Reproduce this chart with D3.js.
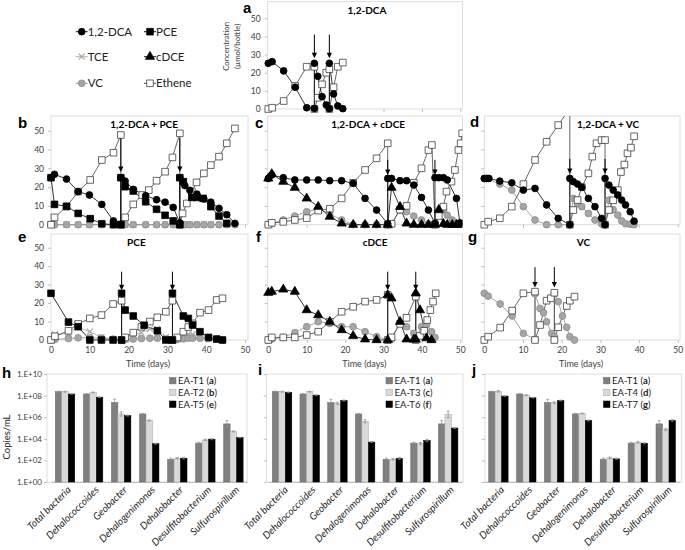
<!DOCTYPE html>
<html><head><meta charset="utf-8">
<script src="https://cdn.jsdelivr.net/npm/d3@7"></script>
<style>body{margin:0;background:#fff}svg{display:block;font-family:Lato,'Open Sans',sans-serif}</style>
</head><body><svg id="c" width="685" height="550"></svg>
<script>
// ===== Time-course data: [day, µmol/bottle] =====
const a_DCA = [[0,25.2],[1,26.1],[4,21],[7,12],[10,0.7],[12,0.3],[12,25.2],[12.9,18],[14,6.8],[15.1,2.2],[15.9,0.2],[15.9,25.2],[17,8.3],[18.1,1.7],[19.4,0.2]];
const a_Eth = [[0,0],[1,0.7],[4,4.4],[7,12.7],[10,23.3],[12,23.3],[12,0],[12.9,6.2],[14,13.6],[15.1,20],[15.9,21.9],[15.9,0],[17,12],[18.1,23.3],[19.4,25.6]];
const a_spikes = [12, 15.9];

const b_DCA = [[0,25],[0.9,26.8],[4,24.3],[7,17.6],[9.9,15.8],[13.1,10.8],[16.1,2],[18,0.3],[18,25],[19.1,23.2],[21.2,18.8],[24.4,15.4],[27.2,13.3],[29.4,12],[31.5,9.2],[33.2,1],[33.2,25],[34.5,20.8],[35.8,18.3],[37.6,16.3],[39.4,13.7],[41.2,12],[43.3,8.7],[45.3,5.3],[47.4,0.7]];
const b_PCE = [[0,25],[0.9,10.8],[4,9.8],[7,6],[10.1,3.2],[13.1,0.5],[16.1,0],[18,0],[18,25],[19.1,20.2],[21.2,17.9],[24.4,12.2],[27.2,8.2],[29.4,5],[31.5,2],[33.2,0],[33.2,25],[34.1,22.9],[36.3,14.5],[37.6,14.5],[39.2,14],[41.2,9.6],[43.3,4.6],[45.3,0.7]];
const b_Eth = [[0,0],[0.9,3.9],[4,9.6],[7,17.6],[10.1,23.8],[13.1,34.4],[16.1,38.3],[18,47.7],[18,0],[19.1,3.9],[21.2,10.8],[23.5,15.8],[25.2,18.4],[27.2,23.4],[29.4,28.2],[31.3,35.8],[33.2,48.6],[33.2,0],[33.9,6],[35,11.3],[36.3,17.6],[37.5,22.5],[39.4,27.3],[41.2,31.7],[43.3,36.2],[45.3,43.3],[47.4,51.2]];
const b_VC = [[0,0],[0.9,0],[4,0],[7,0],[9.9,0],[13.1,0],[16.1,0],[18,0],[19.1,0],[21.2,0],[24.4,0],[27.2,0],[29.4,0],[31.5,0],[33.2,0],[34.5,0],[35.8,0],[37.6,0],[39.4,0],[41.2,0],[43.3,0],[45.3,0],[47.4,0]];
const b_TCE = [[0,0],[0.9,0],[4,0],[7,0],[9.9,0],[13.1,0],[16.1,0],[18,0],[19.1,0],[21.2,0],[24.4,0],[27.2,0],[29.4,0],[31.5,0],[33.2,0],[34.5,0],[35.8,0],[37.6,0],[39.4,0],[41.2,0],[43.3,0],[45.3,0],[47.4,0]];
const b_spikes = [18, 33.2];

const c_DCA = [[0,24.6],[0.9,26.4],[3.9,25],[6.9,23.8],[10,23.8],[13,23.8],[16,23.4],[19.1,23.4],[22.1,22],[25.2,14],[28.2,7.8],[31.1,0.5],[31.1,24.6],[32.1,24.6],[34.3,23.4],[36,23.4],[37.9,21.1],[39.9,14.5],[41.7,7.8],[43.4,0.7],[43.4,25],[44.4,25],[45.6,25],[46.6,23.8],[49,14],[49.9,1]];
const c_cDCE = [[0,24.6],[0.9,27],[3.9,22.9],[6.9,19.7],[10,14],[13,9.6],[16,4.3],[19.1,0.7],[22.1,0],[25.2,0],[28.2,0],[31.1,0],[32.1,19.7],[34.3,9.5],[36,0.7],[37.9,0],[39.9,0],[41.7,0],[43.4,0],[44.4,8],[45.6,0.5],[46.6,0],[47.9,0],[49,0],[49.9,0]];
const c_VC = [[0,0],[0.9,0.5],[3.9,2.5],[6.9,4.6],[10,6.9],[13,8.3],[16,5.7],[19.1,2.5],[22.1,0],[25.2,0],[28.2,0],[31.1,0],[32.1,0.5],[34.3,7.8],[36,6.9],[37.9,4.6],[39.9,2.5],[41.7,0.5],[43.4,0],[44.4,6.9],[45.6,7.8],[46.6,5.1],[47.9,2.5],[49,0.5]];
const c_Eth = [[0,0],[0.9,1],[3.9,1.5],[6.9,2.5],[10,3.5],[13,7.5],[16,8.5],[19.1,14],[22.1,22.3],[25.2,29.1],[28.2,35.3],[31.1,43.3],[31.1,0],[32.1,0.5],[34.3,8],[36,10],[37.9,22.3],[39.9,30],[41.7,39.7],[42.6,42.4],[43.4,0],[44.4,4.6],[45.6,9.6],[46.4,17.6],[47.7,22.9],[48.6,29.1],[49.5,39.7],[50.1,43.3],[50.5,48.6]];
const c_spikes = [31.1, 43.4];

const d_DCA = [[0,24.6],[0.6,24.6],[1.2,24.6],[4,23.2],[7.1,22.3],[10.1,18.4],[13.1,19.3],[16.1,10.5],[19.1,3.4],[22.1,0],[22.1,24.6],[23,22.9],[24.1,21.6],[25.2,19.9],[26.9,14],[28.6,9.6],[30.3,3.4],[31.2,0],[31.2,24.6],[32.2,21.1],[33.3,18.4],[34.5,15.8],[35.5,13.1],[36.5,10.5],[37.7,6.9],[38.7,1.9]];
const d_VC = [[0,24.6],[0.6,24.6],[4,21.6],[7.1,18.4],[10.1,9.6],[13.1,2.5],[16.1,0],[19.1,0],[22.1,0],[23,14],[24.1,11.3],[25.2,9.6],[26.9,6],[28.6,2.5],[30.3,0.5],[31.2,0],[32.2,13.1],[33.3,8],[34.5,5.1],[35.5,2],[36.5,0.5],[37.7,0.3],[38.7,0]];
const d_Eth = [[0,0],[1,1.6],[4,3.4],[7.1,9.6],[10.1,21.6],[13.1,34.4],[16.1,44.1],[19.1,53],[22.1,62],[22.1,0],[23,7.8],[24.1,13.1],[25.2,20],[26.9,27.3],[27.9,36.2],[29,43.3],[30.3,45],[31.2,45],[31.2,0],[32.2,7.8],[33.3,13],[34.5,18.4],[35.3,28],[36.2,32],[37,38],[37.9,41],[38.7,47]];
const d_spikes = [22.1, 31.2];

const e_PCE = [[0,25.3],[4.5,9.7],[7,7.2],[10,0],[13,0],[16,0],[18.2,0],[18.2,25.3],[19.1,16.2],[21.2,13],[24,8],[27.4,5],[29.6,0],[31.3,0],[31.3,25.3],[34.1,13],[35.4,11.7],[36.5,8.1],[38.4,4.5],[40.6,1.4],[42.7,0.5],[44.2,0]];
const e_TCE = [[0,0],[1,3],[4.5,3.5],[7,7],[10,4.5],[13,1.5],[16,0.5],[18.2,0],[19.1,1],[21.2,2.5],[23.3,4],[25.5,6],[27.4,6],[29.6,1.5],[31.3,0],[32.6,1.5],[34.1,2.5],[35.4,3],[36.5,3],[38.4,2],[40.6,1],[42.7,0.5],[44.2,0]];
const e_VC = [[0,0],[1,0.3],[4.5,0.8],[7,1.2],[10,1.2],[13,1],[16,0.5],[18.2,0],[19.1,0.3],[21.2,0.5],[23.3,0.8],[25.5,1],[27.4,1],[29.6,0.5],[31.3,0],[32.6,0.3],[34.1,0.6],[35.4,1],[36.5,1],[38.4,1],[40.6,0.8],[42.7,0.5],[44.2,0]];
const e_Eth = [[0,0],[1,2],[4.5,5],[7,8.7],[10,11.7],[13,13.5],[16,19.5],[18.2,21.3],[18.2,0],[19.1,1.4],[21.2,4],[23.3,7.2],[25.5,10],[27.4,12.3],[29.6,15.3],[31.3,21.3],[31.3,0],[32.6,1.4],[34.1,4.5],[35.4,7],[36.5,9],[38.4,14.8],[40.6,16.2],[42.7,21.7],[44.2,22.6]];
const e_spikes = [18.2, 31.3];

const f_cDCE = [[0,25.6],[0.9,26.2],[3.9,27.4],[6.9,26.2],[10,16.2],[13,13.5],[16,9.9],[19.1,5.4],[22.1,2.2],[25.2,0.4],[28.2,0],[31.1,0],[31.1,24.4],[32.1,22.6],[34.3,9.9],[36,0.4],[37.9,0.3],[38.4,0.3],[38.4,25.3],[39.5,16.2],[41.2,1],[42.5,0]];
const f_VC = [[0,0],[0.9,0.5],[3.9,1.4],[6.9,4],[10,7.2],[13,9.9],[16,9],[19.1,7.2],[22.1,7.2],[25.2,4.5],[28.2,1.8],[31.1,0],[32.1,0.5],[34.3,9.5],[36,7.2],[37.9,3.6],[38.4,0.5],[39.9,7.2],[41.2,8.1],[42.5,4.5],[43.4,1.4]];
const f_Eth = [[0,0],[0.9,1.4],[3.9,1.4],[6.9,1.4],[10,2.7],[13,4.5],[16,9.9],[19.1,15.3],[22.1,18],[25.2,20.8],[28.2,21.7],[31.1,24.4],[31.1,0],[32.1,1.4],[34.3,8.7],[36,12],[38.4,23.5],[38.4,0],[39.5,2.2],[40.6,5],[41.4,10.8],[42.2,16.2],[42.9,20.8],[43.6,25.3]];
const f_spikes = [31.1, 38.4];

const g_VC = [[0,25.3],[1,23.8],[4.1,19.5],[7.2,13],[10.1,3.6],[13.1,0.4],[13.1,25],[14.4,17.1],[15.3,14.8],[16.1,9.9],[17.4,3.6],[18.1,1.8],[18.1,25],[19.1,20.8],[20.2,13],[21.3,6.9],[22.1,1.8],[23.3,0]];
const g_Eth = [[0,0],[1,1.8],[4.1,6.7],[7.2,15.9],[10.1,25.3],[13.1,26.2],[13.1,0],[14.4,8.1],[16.1,21.3],[17.2,22.6],[18.1,25.6],[18.1,0],[19.1,6.9],[21.3,18.4],[22.1,21.3],[23.3,23.5]];
const g_spikes = [13.1, 18.1];

const concTicks = [0,10,20,30,40,50];
const dayTicks = [0,10,20,30,40,50];

// ===== qPCR data (copies/mL) =====
const bacteria = ['Total bacteria','Dehalococcoides','Geobacter','Dehalogenimonas','Dehalobacter','Desulfitobacterium','Sulfurospirillum'];
const ea_T1 = [2.3e8,1.4e8,2.3e7,2.0e6,1.25e2,4.0e3,2.4e5];
const ea_T1_err = [0.05,0.04,0.3,0.05,0.12,0.08,0.3];
const ea_T2 = [2.3e8,2.0e8,2.0e6,5.0e5,1.6e2,7.9e3,4.8e4];
const ea_T2_err = [0.05,0.04,0.2,0.05,0.06,0.06,0.05];
const ea_T5 = [1.4e8,7.1e7,1.4e6,3.5e3,1.6e2,9.3e3,1.3e4];
const ea_T5_err = [0.03,0.03,0.05,0.05,0.08,0.06,0.03];
const ea_T3 = [2.3e8,2.3e8,1.9e7,4.2e5,1.3e2,3.6e3,1.8e6];
const ea_T3_err = [0.05,0.04,0.1,0.15,0.08,0.1,0.3];
const ea_T6 = [2.0e8,1.1e8,3.5e7,5.0e3,1.5e2,6.9e3,1.0e5];
const ea_T6_err = [0.04,0.04,0.05,0.05,0.1,0.1,0.05];
const ea_T4 = [2.5e8,1.1e8,2.2e7,2.2e6,1.7e2,4.8e3,7.2e4];
const ea_T4_err = [0.07,0.04,0.08,0.04,0.08,0.08,0.1];
const ea_T7 = [9.1e7,6.3e7,3.5e7,5.0e5,1.4e2,3.9e3,5.0e5];
const ea_T7_err = [0.04,0.03,0.04,0.05,0.05,0.05,0.08];
const copyTicks = [1,1e2,1e4,1e6,1e8,1e10];

// ===== drawing =====
const svg = d3.select('#c');
const BOXC = '#d4d4d4', TICKC = '#bfbfbf', LABC = '#404040';
const styles = {
  DCA:{sym:'circle', fill:'#000', stroke:'#000', line:'#000'},
  PCE:{sym:'square', fill:'#000', stroke:'#000', line:'#000'},
  TCE:{sym:'x', fill:'none', stroke:'#a6a6a6', line:'#a6a6a6'},
  cDCE:{sym:'triangle', fill:'#000', stroke:'#000', line:'#000'},
  VC:{sym:'circle', fill:'#a6a6a6', stroke:'#8c8c8c', line:'#8c8c8c'},
  Eth:{sym:'square', fill:'#fff', stroke:'#404040', line:'#404040'}
};
const order = ['TCE','VC','Eth','cDCE','PCE','DCA'];
function symPath(t){
  if(t==='circle') return d3.symbol(d3.symbolCircle, 36)();
  if(t==='square') return d3.symbol(d3.symbolSquare, 44)();
  if(t==='triangle') return d3.symbol(d3.symbolTriangle, 36)();
  return 'M-3,-3L3,3M-3,3L3,-3';
}
function marker(sel, key){
  const s = styles[key];
  sel.append('path').attr('d', symPath(s.sym)).attr('fill', s.fill)
    .attr('stroke', s.stroke).attr('stroke-width', s.sym==='x'?1.2:0.8);
}

const cols = {c1:{x0:51,x50:245,left:51,right:248}, c2:{x0:268.3,x50:460.3,left:267.7,right:462.5}, c3:{x0:484.3,x50:677.8,left:484.3,right:680}};
const rows = {rA:{y0:109,y50:18.3,top:1.7}, rB:{y0:224.7,y50:130.7,top:116}, rE:{y0:340,y50:247.7,top:234}};

const panels = [
 {id:'a', col:'c2', row:'rA', title:'1,2-DCA', tDay:25.7, letter:[243,12.5], series:{Eth:a_Eth,DCA:a_DCA}, spikes:a_spikes, arrow:[41,28], yLab:true, yTitle:true},
 {id:'b', col:'c1', row:'rB', title:'1,2-DCA + PCE', tDay:24, letter:[18,128], series:{TCE:b_TCE,VC:b_VC,Eth:b_Eth,PCE:b_PCE,DCA:b_DCA}, spikes:b_spikes, arrow:[46,28], yLab:true},
 {id:'c', col:'c2', row:'rB', title:'1,2-DCA + cDCE', tDay:26, letter:[255,128], series:{VC:c_VC,Eth:c_Eth,cDCE:c_cDCE,DCA:c_DCA}, spikes:c_spikes, arrow:[34.5,26.5]},
 {id:'d', col:'c3', row:'rB', title:'1,2-DCA + VC', tDay:32, letter:[470,127], series:{VC:d_VC,Eth:d_Eth,DCA:d_DCA}, spikes:d_spikes, arrow:[35,27]},
 {id:'e', col:'c1', row:'rE', title:'PCE', tDay:22, letter:[18,242], series:{TCE:e_TCE,VC:e_VC,Eth:e_Eth,PCE:e_PCE}, spikes:e_spikes, arrow:[37,27], yLab:true, xLab:true},
 {id:'f', col:'c2', row:'rE', title:'cDCE', tDay:27.8, letter:[256,242], series:{VC:f_VC,Eth:f_Eth,cDCE:f_cDCE}, spikes:f_spikes, arrow:[37,27], xLab:true},
 {id:'g', col:'c3', row:'rE', title:'VC', tDay:25.6, letter:[468,242], series:{VC:g_VC,Eth:g_Eth}, spikes:g_spikes, arrow:[39.5,28.5], xLab:true}
];

panels.forEach(p => {
  const C = cols[p.col], R = rows[p.row];
  const x = d3.scaleLinear().domain([0,50]).range([C.x0, C.x50]);
  const y = d3.scaleLinear().domain([0,50]).range([R.y0, R.y50]);
  const g = svg.append('g');
  g.append('rect').attr('x',C.left).attr('y',R.top).attr('width',C.right-C.left).attr('height',R.y0-R.top)
    .attr('fill','none').attr('stroke',BOXC).attr('stroke-width',0.8);
  const ya = g.append('g').attr('transform',`translate(${C.left},0)`)
    .call(d3.axisLeft(y).tickValues(concTicks).tickSize(3).tickPadding(4).tickFormat(p.yLab?d3.format('d'):()=>''));
  const xa = g.append('g').attr('transform',`translate(0,${R.y0})`)
    .call(d3.axisBottom(x).tickValues(dayTicks).tickSize(3).tickPadding(4).tickFormat(p.xLab?d3.format('d'):()=>''));
  [ya,xa].forEach(a => { a.select('.domain').remove();
    a.selectAll('line').attr('stroke',TICKC);
    a.selectAll('text').attr('fill',LABC).style('font-size','8.5px').style('font-family',"Lato,'Open Sans',sans-serif"); });
  if(p.xLab){
    g.append('text').attr('x',x(25)).attr('y',R.y0+27).attr('text-anchor','middle')
      .style('font-size','9px').attr('fill',LABC).text('Time (days)');
  }
  if(p.yTitle){
    const cy = (R.top+R.y0)/2 - 9;
    g.append('text').attr('transform',`translate(229,${cy}) rotate(-90)`).attr('text-anchor','middle')
      .style('font-size','7.8px').attr('fill',LABC).text('Concentration');
    g.append('text').attr('transform',`translate(239.5,${cy}) rotate(-90)`).attr('text-anchor','middle')
      .style('font-size','7.8px').attr('fill',LABC).text('(µmol/bottle)');
  }
  g.append('text').attr('x',x(p.tDay)).attr('y',R.top+12).attr('text-anchor','middle')
    .style('font-size','10px').style('font-weight','bold').text(p.title);
  g.append('text').attr('x',p.letter[0]).attr('y',p.letter[1])
    .style('font-family',"'Liberation Sans',Arial,sans-serif").style('font-size','15px').style('font-weight','bold').text(p.id);

  const clipId = 'clip'+p.id;
  svg.append('clipPath').attr('id',clipId).append('rect')
    .attr('x',C.left-6).attr('y',R.top).attr('width',C.right-C.left+6).attr('height',R.y0-R.top+6);
  const pg = g.append('g').attr('clip-path',`url(#${clipId})`);
  const line = d3.line().x(d=>x(d[0])).y(d=>y(d[1]));
  order.forEach(k => {
    if(!p.series[k]) return;
    pg.append('path').datum(p.series[k]).attr('d',line).attr('fill','none')
      .attr('stroke',styles[k].line).attr('stroke-width',0.8);
  });
  order.forEach(k => {
    if(!p.series[k]) return;
    pg.selectAll(null).data(p.series[k]).enter().append('g')
      .attr('transform',d=>`translate(${x(d[0])},${y(d[1])})`)
      .each(function(){ marker(d3.select(this), k); });
  });
  // spike arrows
  p.spikes.forEach(s => {
    const xs = x(s), yt = y(p.arrow[0]), yb = y(p.arrow[1]);
    g.append('line').attr('x1',xs).attr('x2',xs).attr('y1',yt).attr('y2',yb-4)
      .attr('stroke','#000').attr('stroke-width',1);
    g.append('path').attr('d',`M${xs-2.6},${yb-5.5}L${xs+2.6},${yb-5.5}L${xs},${yb}Z`).attr('fill','#000');
  });
});

// legend (top-left)
const legItems = [['DCA','1,2-DCA',81.7,31.7],['PCE','PCE',150,31.7],['TCE','TCE',81.7,56.7],['cDCE','cDCE',150,56.7],['VC','VC',81.7,83.3],['Eth','Ethene',150,83.3]];
legItems.forEach(([k,label,lx,ly]) => {
  const lg = svg.append('g').attr('transform',`translate(${lx},${ly})`);
  lg.append('line').attr('x1',-6).attr('x2',6).attr('stroke',styles[k].line).attr('stroke-width',0.9);
  marker(lg,k);
  lg.append('text').attr('x',6).attr('y',4).style('font-size','11.5px').attr('fill','#222').text(label);
});

// ===== qPCR bar panels =====
const barFill = ['#7f7f7f','#d9d9d9','#000000'];
const barStroke = ['#6a6a6a','#a6a6a6','#000000'];
const barPanels = [
 {id:'h', band:[51,247.4], box:[47,247], yLab:true, legX:169.5, letter:[2,378],
  series:[{name:'EA-T1',tag:'a',v:ea_T1,e:ea_T1_err},{name:'EA-T2',tag:'b',v:ea_T2,e:ea_T2_err},{name:'EA-T5',tag:'e',v:ea_T5,e:ea_T5_err}]},
 {id:'i', band:[268.2,462], box:[266.7,463], legX:386, letter:[258,375],
  series:[{name:'EA-T1',tag:'a',v:ea_T1,e:ea_T1_err},{name:'EA-T3',tag:'c',v:ea_T3,e:ea_T3_err},{name:'EA-T6',tag:'f',v:ea_T6,e:ea_T6_err}]},
 {id:'j', band:[484.4,679.7], box:[485,681.7], legX:603.5, letter:[472,375],
  series:[{name:'EA-T1',tag:'a',v:ea_T1,e:ea_T1_err},{name:'EA-T4',tag:'d',v:ea_T4,e:ea_T4_err},{name:'EA-T7',tag:'g',v:ea_T7,e:ea_T7_err}]}
];
barPanels.forEach(p => {
  const x = d3.scaleBand().domain(bacteria).range(p.band);
  const y = d3.scaleLog().domain([1,1e10]).range([482,374]);
  const bw = 6.5, gw = bw*3;
  const sub = d3.scaleBand().domain([0,1,2]).range([0,gw]);
  const g = svg.append('g');
  g.append('rect').attr('x',p.box[0]).attr('y',374).attr('width',p.box[1]-p.box[0]).attr('height',108)
    .attr('fill','none').attr('stroke',BOXC).attr('stroke-width',0.8);
  const ya = g.append('g').attr('transform',`translate(${p.box[0]},0)`)
    .call(d3.axisLeft(y).tickValues(copyTicks).tickSize(3).tickPadding(2)
      .tickFormat(p.yLab ? (d=>'1.E+'+String(Math.round(Math.log10(d))).padStart(2,'0')) : ()=>''));
  ya.select('.domain').remove();
  ya.selectAll('line').attr('stroke',TICKC);
  ya.selectAll('text').attr('fill',LABC).style('font-size','8px').style('font-family',"Lato,'Open Sans',sans-serif");
  const xa = g.append('g').attr('transform','translate(0,482)')
    .call(d3.axisBottom(x).tickValues([]).tickSize(0));
  xa.select('.domain').attr('stroke',TICKC);
  p.series.forEach((s,si) => {
    g.selectAll(null).data(s.v).enter().append('rect')
      .attr('x',(d,i)=>x(bacteria[i])+(x.bandwidth()-gw)/2+sub(si))
      .attr('y',d=>y(d)).attr('width',bw).attr('height',d=>482-y(d))
      .attr('fill',barFill[si]).attr('stroke',barStroke[si]).attr('stroke-width',0.5);
    g.selectAll(null).data(s.v).enter().append('path')
      .attr('d',(d,i)=>{
        const cx = x(bacteria[i])+(x.bandwidth()-gw)/2+sub(si)+bw/2;
        const y1 = y(d*Math.pow(10,s.e[i])), y2 = y(d/Math.pow(10,s.e[i]));
        return `M${cx},${y1}V${y2}M${cx-1.5},${y1}H${cx+1.5}M${cx-1.5},${y2}H${cx+1.5}`;
      }).attr('stroke','#8c8c8c').attr('stroke-width',0.7).attr('fill','none');
  });
  g.selectAll(null).data(bacteria).enter().append('text')
    .attr('transform',d=>`translate(${x(d)+x.bandwidth()/2+4},${488}) rotate(-45)`)
    .attr('text-anchor','end').attr('dy','0.35em')
    .style('font-size','10px').style('font-style','italic').attr('fill','#222').text(d=>d);
  p.series.forEach((s,si) => {
    const ly = 380.7 + si*11.8;
    g.append('rect').attr('x',p.legX).attr('y',ly-3.3).attr('width',6.5).attr('height',6.5)
      .attr('fill',barFill[si]).attr('stroke',barStroke[si]).attr('stroke-width',0.5);
    const t = g.append('text').attr('x',p.legX+8.5).attr('y',ly+3.2).style('font-size','9.5px').attr('fill','#222');
    t.append('tspan').text(s.name+' (');
    t.append('tspan').style('font-weight','bold').text(s.tag);
    t.append('tspan').text(')');
  });
  g.append('text').attr('x',p.letter[0]).attr('y',p.letter[1])
    .style('font-family',"'Liberation Sans',Arial,sans-serif").style('font-size','15px').style('font-weight','bold').text(p.id);
  if(p.yLab){
    g.append('text').attr('transform','translate(10,437) rotate(-90)').attr('text-anchor','middle')
      .style('font-size','9.5px').attr('fill','#222').text('Copies/mL');
  }
});
</script></body></html>
